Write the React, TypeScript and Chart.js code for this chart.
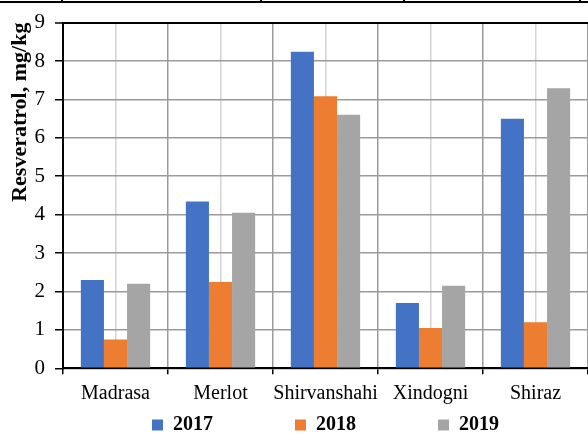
import React, { useEffect, useRef } from "react";
import { Chart, registerables } from "chart.js";

Chart.register(...registerables);

const categories = ["Madrasa", "Merlot", "Shirvanshahi", "Xindogni", "Shiraz"];
const seriesNames = ["2017", "2018", "2019"];
const values2017 = [2.3, 4.34, 8.24, 1.7, 6.5];
const values2018 = [0.75, 2.25, 7.08, 1.05, 1.2];
const values2019 = [2.2, 4.05, 6.6, 2.15, 7.29];
const seriesColors = ["#4472C4", "#ED7D31", "#A5A5A5"];
const yTicks = [0, 1, 2, 3, 4, 5, 6, 7, 8, 9];
const yTitle = "Resveratrol, mg/kg";

const FONT = "'Liberation Serif', 'Times New Roman', serif";

export default function App() {
  const ref = useRef<HTMLCanvasElement | null>(null);

  useEffect(() => {
    if (!ref.current) return;
    const seriesValues = [values2017, values2018, values2019];
    const chart = new Chart(ref.current, {
      type: "bar",
      data: {
        labels: categories,
        datasets: seriesNames.map((name, i) => ({
          label: name,
          data: seriesValues[i],
          backgroundColor: seriesColors[i],
          borderWidth: 0,
          xAxisID: "x",
          yAxisID: "y",
          categoryPercentage: 0.66,
          barPercentage: 1,
        })),
      },
      options: {
        animation: false,
        responsive: false,
        events: [],
        layout: { padding: { top: 18, left: 0, right: 0, bottom: 0 } },
        plugins: {
          tooltip: { enabled: false },
          legend: {
            position: "bottom",
            fullSize: false,
            maxHeight: 30,
            title: {
              display: true,
              text: "",
              font: { size: 1, lineHeight: 1 },
              padding: { top: -72, bottom: 0 },
            },
            labels: {
              boxWidth: 11,
              boxHeight: 11,
              padding: 82,
              color: "#000",
              font: { family: FONT, size: 20, weight: "bold" },
            },
          },
        },
        scales: {
          x: {
            type: "category",
            position: "bottom",
            offset: true,
            grid: {
              offset: true,
              color: "#9b9b9b",
              lineWidth: 1.5,
              tickColor: "#000",
              tickLength: 6,
              tickWidth: 1.5,
            },
            border: { display: true, color: "#000", width: 2 },
            ticks: {
              color: "#000",
              padding: 7,
              maxRotation: 0,
              autoSkip: false,
              font: { family: FONT, size: 20 },
            },
            afterFit: (s: any) => {
              s.height = 35.7;
            },
          },
          x2: {
            type: "category",
            labels: categories,
            position: "top",
            offset: true,
            grid: {
              offset: false,
              color: "#d3d3d3",
              lineWidth: 1.5,
              drawTicks: false,
            },
            border: { display: false },
            ticks: { display: false },
            afterFit: (s: any) => {
              s.height = 0;
            },
          },
          y: {
            min: 0,
            max: 9,
            afterBuildTicks: (s: any) => {
              s.ticks = yTicks.map((v) => ({ value: v }));
            },
            grid: {
              color: (c: any) => (c.tick && c.tick.value === 9 ? "#000" : "#9b9b9b"),
              lineWidth: (c: any) => (c.tick && c.tick.value === 9 ? 2 : 1.5),
              tickColor: "#000",
              tickLength: 8,
              tickWidth: 1.5,
            },
            border: { display: true, color: "#000", width: 2 },
            ticks: {
              color: "#000",
              padding: 10,
              font: { family: FONT, size: 21 },
            },
            title: {
              display: true,
              text: yTitle,
              align: "end",
              color: "#000",
              padding: { top: 7, bottom: 0 },
              font: { family: FONT, size: 22, weight: "bold" },
            },
            afterFit: (s: any) => {
              s.width = 63;
            },
          },
        },
      },
    } as any);
    return () => chart.destroy();
  }, []);

  const vticks = [61, 260, 403, 579];
  return (
    <div style={{ position: "absolute", left: 0, top: 0, width: 588, height: 434, background: "#fff" }}>
      <canvas ref={ref} width={588} height={434} style={{ display: "block", width: 588, height: 434 }} />
      <div style={{ position: "absolute", left: 0, top: 1, width: 588, height: 2, background: "#000" }} />
      {vticks.map((x) => (
        <div key={x} style={{ position: "absolute", left: x, top: 0, width: 2, height: 3, background: "#000" }} />
      ))}
    </div>
  );
}
